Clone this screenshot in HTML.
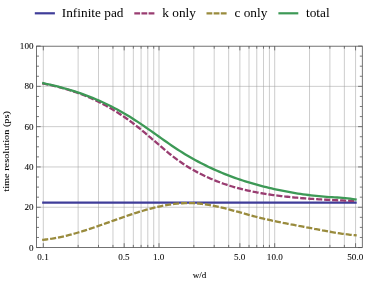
<!DOCTYPE html>
<html><head><meta charset="utf-8"><title>time resolution vs w/d</title>
<style>html,body{margin:0;padding:0;background:#fff;}body{width:365px;height:281px;position:relative;overflow:hidden;font-family:"Liberation Serif",serif;}</style>
</head><body>
<svg width="365" height="281" viewBox="0 0 365 281" style="position:absolute;left:0;top:0;will-change:transform">
<g stroke="#9a9a9a" stroke-width="0.5" fill="none">
<line x1="43.30" y1="46.2" x2="43.30" y2="247.4"/>
<line x1="78.13" y1="46.2" x2="78.13" y2="247.4"/>
<line x1="98.50" y1="46.2" x2="98.50" y2="247.4"/>
<line x1="112.96" y1="46.2" x2="112.96" y2="247.4"/>
<line x1="124.17" y1="46.2" x2="124.17" y2="247.4"/>
<line x1="133.33" y1="46.2" x2="133.33" y2="247.4"/>
<line x1="141.08" y1="46.2" x2="141.08" y2="247.4"/>
<line x1="147.79" y1="46.2" x2="147.79" y2="247.4"/>
<line x1="153.71" y1="46.2" x2="153.71" y2="247.4"/>
<line x1="159.00" y1="46.2" x2="159.00" y2="247.4"/>
<line x1="193.83" y1="46.2" x2="193.83" y2="247.4"/>
<line x1="214.20" y1="46.2" x2="214.20" y2="247.4"/>
<line x1="228.66" y1="46.2" x2="228.66" y2="247.4"/>
<line x1="239.87" y1="46.2" x2="239.87" y2="247.4"/>
<line x1="249.03" y1="46.2" x2="249.03" y2="247.4"/>
<line x1="256.78" y1="46.2" x2="256.78" y2="247.4"/>
<line x1="263.49" y1="46.2" x2="263.49" y2="247.4"/>
<line x1="269.41" y1="46.2" x2="269.41" y2="247.4"/>
<line x1="274.70" y1="46.2" x2="274.70" y2="247.4"/>
<line x1="309.53" y1="46.2" x2="309.53" y2="247.4"/>
<line x1="329.90" y1="46.2" x2="329.90" y2="247.4"/>
<line x1="344.36" y1="46.2" x2="344.36" y2="247.4"/>
<line x1="355.57" y1="46.2" x2="355.57" y2="247.4"/>
<line x1="36.5" y1="207.25" x2="362.3" y2="207.25"/>
<line x1="36.5" y1="166.95" x2="362.3" y2="166.95"/>
<line x1="36.5" y1="126.65" x2="362.3" y2="126.65"/>
<line x1="36.5" y1="86.35" x2="362.3" y2="86.35"/>
</g>
<g fill="none" stroke-width="2.3" stroke-linejoin="round" stroke-linecap="square" transform="translate(0,0.2)">
<path d="M43.30,202.37 L355.57,202.37" stroke="#3f3d99"/>
<path d="M43.30,83.33 L45.92,83.85 L48.55,84.39 L51.17,84.97 L53.80,85.57 L56.42,86.21 L59.04,86.88 L61.67,87.58 L64.29,88.32 L66.92,89.10 L69.54,89.91 L72.17,90.76 L74.79,91.65 L77.41,92.57 L80.04,93.54 L82.66,94.55 L85.29,95.60 L87.91,96.69 L90.53,97.83 L93.16,99.01 L95.78,100.24 L98.41,101.51 L101.03,102.83 L103.65,104.20 L106.28,105.62 L108.90,107.09 L111.53,108.61 L114.15,110.18 L116.78,111.81 L119.40,113.49 L122.02,115.22 L124.65,117.01 L127.27,118.85 L129.90,120.76 L132.52,122.72 L135.14,124.74 L137.77,126.81 L140.39,128.93 L143.02,131.09 L145.64,133.29 L148.26,135.51 L150.89,137.75 L153.51,140.00 L156.14,142.26 L158.76,144.52 L161.39,146.76 L164.01,148.99 L166.63,151.19 L169.26,153.34 L171.88,155.44 L174.51,157.47 L177.13,159.43 L179.75,161.30 L182.38,163.10 L185.00,164.83 L187.63,166.48 L190.25,168.07 L192.88,169.59 L195.50,171.06 L198.12,172.47 L200.75,173.83 L203.37,175.13 L206.00,176.38 L208.62,177.58 L211.24,178.73 L213.87,179.83 L216.49,180.89 L219.12,181.90 L221.74,182.86 L224.36,183.78 L226.99,184.66 L229.61,185.51 L232.24,186.31 L234.86,187.07 L237.49,187.80 L240.11,188.50 L242.73,189.16 L245.36,189.78 L247.98,190.38 L250.61,190.95 L253.23,191.49 L255.85,192.01 L258.48,192.49 L261.10,192.96 L263.73,193.40 L266.35,193.82 L268.97,194.22 L271.60,194.60 L274.22,194.97 L276.85,195.32 L279.47,195.65 L282.10,195.97 L284.72,196.27 L287.34,196.56 L289.97,196.84 L292.59,197.10 L295.22,197.35 L297.84,197.59 L300.46,197.82 L303.09,198.04 L305.71,198.24 L308.34,198.44 L310.96,198.62 L313.58,198.80 L316.21,198.97 L318.83,199.13 L321.46,199.28 L324.08,199.42 L326.71,199.56 L329.33,199.69 L331.95,199.81 L334.58,199.93 L337.20,200.05 L339.83,200.15 L342.45,200.26 L345.07,200.36 L347.70,200.46 L350.32,200.55 L352.95,200.65 L355.57,200.74" stroke="#993d71" stroke-dasharray="3.8 4.2"/>
<path d="M43.30,239.57 L45.92,239.29 L48.55,238.96 L51.17,238.58 L53.80,238.16 L56.42,237.69 L59.04,237.17 L61.67,236.62 L64.29,236.03 L66.92,235.39 L69.54,234.73 L72.17,234.03 L74.79,233.30 L77.41,232.55 L80.04,231.76 L82.66,230.96 L85.29,230.13 L87.91,229.28 L90.53,228.41 L93.16,227.53 L95.78,226.63 L98.41,225.72 L101.03,224.80 L103.65,223.88 L106.28,222.95 L108.90,222.01 L111.53,221.08 L114.15,220.14 L116.78,219.21 L119.40,218.28 L122.02,217.37 L124.65,216.46 L127.27,215.56 L129.90,214.67 L132.52,213.80 L135.14,212.95 L137.77,212.12 L140.39,211.31 L143.02,210.53 L145.64,209.77 L148.26,209.04 L150.89,208.33 L153.51,207.67 L156.14,207.03 L158.76,206.43 L161.39,205.88 L164.01,205.36 L166.63,204.88 L169.26,204.45 L171.88,204.07 L174.51,203.73 L177.13,203.45 L179.75,203.22 L182.38,203.05 L185.00,202.93 L187.63,202.88 L190.25,202.88 L192.88,202.95 L195.50,203.09 L198.12,203.28 L200.75,203.54 L203.37,203.86 L206.00,204.23 L208.62,204.65 L211.24,205.12 L213.87,205.63 L216.49,206.17 L219.12,206.75 L221.74,207.37 L224.36,208.01 L226.99,208.68 L229.61,209.36 L232.24,210.07 L234.86,210.78 L237.49,211.51 L240.11,212.24 L242.73,212.97 L245.36,213.70 L247.98,214.43 L250.61,215.15 L253.23,215.86 L255.85,216.55 L258.48,217.22 L261.10,217.87 L263.73,218.50 L266.35,219.11 L268.97,219.71 L271.60,220.29 L274.22,220.86 L276.85,221.41 L279.47,221.95 L282.10,222.48 L284.72,223.01 L287.34,223.52 L289.97,224.03 L292.59,224.54 L295.22,225.03 L297.84,225.53 L300.46,226.03 L303.09,226.52 L305.71,227.01 L308.34,227.51 L310.96,228.01 L313.58,228.51 L316.21,229.01 L318.83,229.52 L321.46,230.01 L324.08,230.50 L326.71,230.98 L329.33,231.46 L331.95,231.92 L334.58,232.36 L337.20,232.79 L339.83,233.20 L342.45,233.58 L345.07,233.94 L347.70,234.28 L350.32,234.59 L352.95,234.87 L355.57,235.12" stroke="#998b3d" stroke-dasharray="3.8 4.2"/>
<path d="M43.30,83.03 L45.92,83.57 L48.55,84.14 L51.17,84.73 L53.80,85.35 L56.42,85.99 L59.04,86.65 L61.67,87.35 L64.29,88.07 L66.92,88.81 L69.54,89.59 L72.17,90.40 L74.79,91.23 L77.41,92.09 L80.04,92.99 L82.66,93.92 L85.29,94.87 L87.91,95.87 L90.53,96.89 L93.16,97.95 L95.78,99.04 L98.41,100.17 L101.03,101.33 L103.65,102.53 L106.28,103.77 L108.90,105.04 L111.53,106.35 L114.15,107.70 L116.78,109.09 L119.40,110.52 L122.02,111.99 L124.65,113.50 L127.27,115.05 L129.90,116.64 L132.52,118.28 L135.14,119.96 L137.77,121.68 L140.39,123.44 L143.02,125.22 L145.64,127.04 L148.26,128.87 L150.89,130.72 L153.51,132.58 L156.14,134.44 L158.76,136.31 L161.39,138.17 L164.01,140.02 L166.63,141.86 L169.26,143.68 L171.88,145.48 L174.51,147.25 L177.13,148.99 L179.75,150.68 L182.38,152.34 L185.00,153.96 L187.63,155.53 L190.25,157.06 L192.88,158.56 L195.50,160.01 L198.12,161.43 L200.75,162.81 L203.37,164.15 L206.00,165.45 L208.62,166.72 L211.24,167.96 L213.87,169.16 L216.49,170.32 L219.12,171.46 L221.74,172.56 L224.36,173.63 L226.99,174.67 L229.61,175.68 L232.24,176.66 L234.86,177.61 L237.49,178.53 L240.11,179.42 L242.73,180.29 L245.36,181.13 L247.98,181.94 L250.61,182.73 L253.23,183.49 L255.85,184.24 L258.48,184.95 L261.10,185.65 L263.73,186.32 L266.35,186.98 L268.97,187.61 L271.60,188.22 L274.22,188.82 L276.85,189.39 L279.47,189.95 L282.10,190.48 L284.72,191.00 L287.34,191.50 L289.97,191.99 L292.59,192.45 L295.22,192.89 L297.84,193.32 L300.46,193.72 L303.09,194.10 L305.71,194.47 L308.34,194.81 L310.96,195.14 L313.58,195.44 L316.21,195.73 L318.83,195.99 L321.46,196.24 L324.08,196.46 L326.71,196.66 L329.33,196.84 L331.95,197.00 L334.58,197.15 L337.20,197.30 L339.83,197.46 L342.45,197.64 L345.07,197.85 L347.70,198.12 L350.32,198.44 L352.95,198.82 L355.57,199.29" stroke="#3d9956"/>
</g>
<g stroke="#505050" stroke-width="0.8" fill="none">
<rect x="36.5" y="46.2" width="325.8" height="201.2"/>
</g>
<g stroke="#505050" stroke-width="0.75" fill="none">
<line x1="43.30" y1="247.4" x2="43.30" y2="243.20000000000002"/>
<line x1="43.30" y1="46.2" x2="43.30" y2="50.400000000000006"/>
<line x1="78.13" y1="247.4" x2="78.13" y2="244.9"/>
<line x1="78.13" y1="46.2" x2="78.13" y2="48.7"/>
<line x1="98.50" y1="247.4" x2="98.50" y2="244.9"/>
<line x1="98.50" y1="46.2" x2="98.50" y2="48.7"/>
<line x1="112.96" y1="247.4" x2="112.96" y2="244.9"/>
<line x1="112.96" y1="46.2" x2="112.96" y2="48.7"/>
<line x1="124.17" y1="247.4" x2="124.17" y2="243.20000000000002"/>
<line x1="124.17" y1="46.2" x2="124.17" y2="50.400000000000006"/>
<line x1="133.33" y1="247.4" x2="133.33" y2="244.9"/>
<line x1="133.33" y1="46.2" x2="133.33" y2="48.7"/>
<line x1="141.08" y1="247.4" x2="141.08" y2="244.9"/>
<line x1="141.08" y1="46.2" x2="141.08" y2="48.7"/>
<line x1="147.79" y1="247.4" x2="147.79" y2="244.9"/>
<line x1="147.79" y1="46.2" x2="147.79" y2="48.7"/>
<line x1="153.71" y1="247.4" x2="153.71" y2="244.9"/>
<line x1="153.71" y1="46.2" x2="153.71" y2="48.7"/>
<line x1="159.00" y1="247.4" x2="159.00" y2="243.20000000000002"/>
<line x1="159.00" y1="46.2" x2="159.00" y2="50.400000000000006"/>
<line x1="193.83" y1="247.4" x2="193.83" y2="244.9"/>
<line x1="193.83" y1="46.2" x2="193.83" y2="48.7"/>
<line x1="214.20" y1="247.4" x2="214.20" y2="244.9"/>
<line x1="214.20" y1="46.2" x2="214.20" y2="48.7"/>
<line x1="228.66" y1="247.4" x2="228.66" y2="244.9"/>
<line x1="228.66" y1="46.2" x2="228.66" y2="48.7"/>
<line x1="239.87" y1="247.4" x2="239.87" y2="243.20000000000002"/>
<line x1="239.87" y1="46.2" x2="239.87" y2="50.400000000000006"/>
<line x1="249.03" y1="247.4" x2="249.03" y2="244.9"/>
<line x1="249.03" y1="46.2" x2="249.03" y2="48.7"/>
<line x1="256.78" y1="247.4" x2="256.78" y2="244.9"/>
<line x1="256.78" y1="46.2" x2="256.78" y2="48.7"/>
<line x1="263.49" y1="247.4" x2="263.49" y2="244.9"/>
<line x1="263.49" y1="46.2" x2="263.49" y2="48.7"/>
<line x1="269.41" y1="247.4" x2="269.41" y2="244.9"/>
<line x1="269.41" y1="46.2" x2="269.41" y2="48.7"/>
<line x1="274.70" y1="247.4" x2="274.70" y2="243.20000000000002"/>
<line x1="274.70" y1="46.2" x2="274.70" y2="50.400000000000006"/>
<line x1="309.53" y1="247.4" x2="309.53" y2="244.9"/>
<line x1="309.53" y1="46.2" x2="309.53" y2="48.7"/>
<line x1="329.90" y1="247.4" x2="329.90" y2="244.9"/>
<line x1="329.90" y1="46.2" x2="329.90" y2="48.7"/>
<line x1="344.36" y1="247.4" x2="344.36" y2="244.9"/>
<line x1="344.36" y1="46.2" x2="344.36" y2="48.7"/>
<line x1="355.57" y1="247.4" x2="355.57" y2="243.20000000000002"/>
<line x1="355.57" y1="46.2" x2="355.57" y2="50.400000000000006"/>
<line x1="36.5" y1="247.55" x2="40.7" y2="247.55"/>
<line x1="362.3" y1="247.55" x2="358.1" y2="247.55"/>
<line x1="36.5" y1="237.48" x2="39.0" y2="237.48"/>
<line x1="362.3" y1="237.48" x2="359.8" y2="237.48"/>
<line x1="36.5" y1="227.40" x2="39.0" y2="227.40"/>
<line x1="362.3" y1="227.40" x2="359.8" y2="227.40"/>
<line x1="36.5" y1="217.33" x2="39.0" y2="217.33"/>
<line x1="362.3" y1="217.33" x2="359.8" y2="217.33"/>
<line x1="36.5" y1="207.25" x2="40.7" y2="207.25"/>
<line x1="362.3" y1="207.25" x2="358.1" y2="207.25"/>
<line x1="36.5" y1="197.18" x2="39.0" y2="197.18"/>
<line x1="362.3" y1="197.18" x2="359.8" y2="197.18"/>
<line x1="36.5" y1="187.10" x2="39.0" y2="187.10"/>
<line x1="362.3" y1="187.10" x2="359.8" y2="187.10"/>
<line x1="36.5" y1="177.03" x2="39.0" y2="177.03"/>
<line x1="362.3" y1="177.03" x2="359.8" y2="177.03"/>
<line x1="36.5" y1="166.95" x2="40.7" y2="166.95"/>
<line x1="362.3" y1="166.95" x2="358.1" y2="166.95"/>
<line x1="36.5" y1="156.88" x2="39.0" y2="156.88"/>
<line x1="362.3" y1="156.88" x2="359.8" y2="156.88"/>
<line x1="36.5" y1="146.80" x2="39.0" y2="146.80"/>
<line x1="362.3" y1="146.80" x2="359.8" y2="146.80"/>
<line x1="36.5" y1="136.73" x2="39.0" y2="136.73"/>
<line x1="362.3" y1="136.73" x2="359.8" y2="136.73"/>
<line x1="36.5" y1="126.65" x2="40.7" y2="126.65"/>
<line x1="362.3" y1="126.65" x2="358.1" y2="126.65"/>
<line x1="36.5" y1="116.58" x2="39.0" y2="116.58"/>
<line x1="362.3" y1="116.58" x2="359.8" y2="116.58"/>
<line x1="36.5" y1="106.50" x2="39.0" y2="106.50"/>
<line x1="362.3" y1="106.50" x2="359.8" y2="106.50"/>
<line x1="36.5" y1="96.43" x2="39.0" y2="96.43"/>
<line x1="362.3" y1="96.43" x2="359.8" y2="96.43"/>
<line x1="36.5" y1="86.35" x2="40.7" y2="86.35"/>
<line x1="362.3" y1="86.35" x2="358.1" y2="86.35"/>
<line x1="36.5" y1="76.28" x2="39.0" y2="76.28"/>
<line x1="362.3" y1="76.28" x2="359.8" y2="76.28"/>
<line x1="36.5" y1="66.20" x2="39.0" y2="66.20"/>
<line x1="362.3" y1="66.20" x2="359.8" y2="66.20"/>
<line x1="36.5" y1="56.12" x2="39.0" y2="56.12"/>
<line x1="362.3" y1="56.12" x2="359.8" y2="56.12"/>
<line x1="36.5" y1="46.05" x2="40.7" y2="46.05"/>
<line x1="362.3" y1="46.05" x2="358.1" y2="46.05"/>
</g>
<g font-family="Liberation Serif, serif" font-size="9.1" fill="#000" stroke="#000" stroke-width="0.07">
<text x="33.5" y="250.50" text-anchor="end">0</text>
<text x="33.5" y="210.20" text-anchor="end">20</text>
<text x="33.5" y="169.90" text-anchor="end">40</text>
<text x="33.5" y="129.60" text-anchor="end">60</text>
<text x="33.5" y="89.30" text-anchor="end">80</text>
<text x="33.5" y="49.00" text-anchor="end">100</text>
<text x="43.00" y="259.8" text-anchor="middle">0.1</text>
<text x="123.87" y="259.8" text-anchor="middle">0.5</text>
<text x="158.70" y="259.8" text-anchor="middle">1.0</text>
<text x="239.57" y="259.8" text-anchor="middle">5.0</text>
<text x="274.80" y="259.8" text-anchor="middle">10.0</text>
<text x="355.27" y="259.8" text-anchor="middle">50.0</text>
<text x="199.5" y="277.5" text-anchor="middle">w/d</text>
<text transform="translate(8.6,151.4) rotate(-90)" text-anchor="middle" font-size="9.1" textLength="80.6" lengthAdjust="spacingAndGlyphs">time resolution (ps)</text>
</g>
<g font-family="Liberation Serif, serif" font-size="13.3" fill="#000">
<text x="61.8" y="17.0">Infinite pad</text>
<text x="162.3" y="17.0">k only</text>
<text x="234.5" y="17.0">c only</text>
<text x="306" y="17.0">total</text>
</g>
<g fill="none" stroke-width="2.2">
<line x1="34.8" y1="13.3" x2="54.9" y2="13.3" stroke="#3f3d99"/>
<line x1="134.3" y1="13.3" x2="154.4" y2="13.3" stroke="#993d71" stroke-dasharray="5.8 1.35"/>
<line x1="206.5" y1="13.3" x2="226.8" y2="13.3" stroke="#998b3d" stroke-dasharray="5.8 1.35"/>
<line x1="278.4" y1="13.3" x2="298.3" y2="13.3" stroke="#3d9956"/>
</g>
</svg>
</body></html>
